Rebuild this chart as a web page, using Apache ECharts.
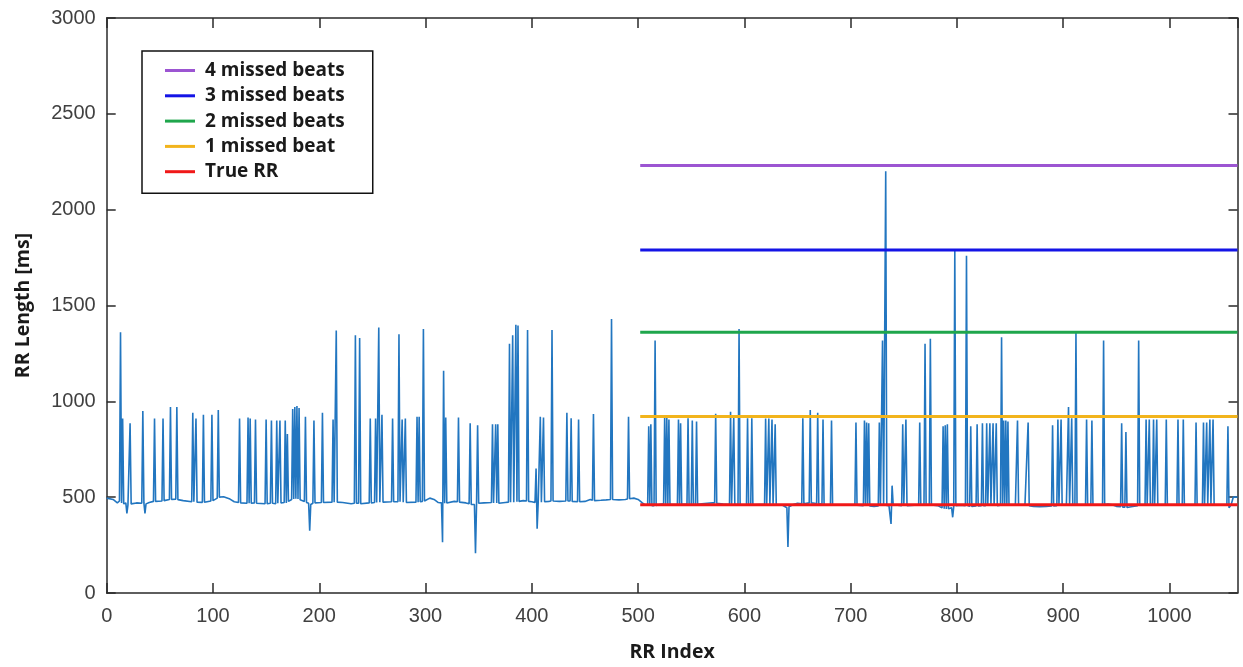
<!DOCTYPE html>
<html>
<head>
<meta charset="utf-8">
<script src="https://cdn.jsdelivr.net/npm/echarts@6/dist/echarts.min.js"></script>
<style>
html,body{margin:0;padding:0;background:#fff;}
#chart{width:1243px;height:667px;}
</style>
</head>
<body>
<div id="chart"></div>
<script>
// ---- data ----
const xTicks = [0,100,200,300,400,500,600,700,800,900,1000];
const yTicks = [0,500,1000,1500,2000,2500,3000];
const xMax = 1064;

// RR series: [RR index, RR length in ms]
const rrPoints = [
[0,495],[6,488],[10,470],[12,480],[13,1360],[14,470],[15,910],[16,465],[18,470],[19,415],[20,460],[21,470],[22,885],[23,465],[28,470],[33,468],[34,950],[35,470],[36,415],[37,465],[40,472],[44,478],[45,910],[46,478],[52,480],[53,910],[54,482],[59,488],[60,970],[61,488],[65,490],[66,970],[67,487],[72,482],[80,476],[81,940],[82,476],[83,475],[84,910],[85,474],[90,473],[91,930],[92,473],[98,480],[99,930],[100,482],[104,495],[105,955],[106,500],[110,502],[116,490],[120,476],[124,472],[125,910],[126,470],[132,468],[133,915],[134,468],[135,910],[136,468],[139,470],[140,905],[141,468],[149,466],[150,905],[151,466],[154,468],[155,900],[156,468],[159,466],[160,900],[161,468],[162,470],[163,900],[164,470],[167,472],[168,900],[169,470],[170,830],[171,478],[174,488],[175,960],[176,490],[177,970],[178,492],[179,975],[180,490],[181,965],[182,486],[186,478],[187,920],[188,472],[190,468],[191,325],[192,462],[194,468],[195,900],[196,470],[202,472],[203,940],[204,472],[212,474],[213,905],[214,474],[215,476],[216,1370],[217,474],[222,472],[230,466],[233,468],[234,1345],[235,468],[237,468],[238,1330],[239,466],[247,470],[248,910],[249,470],[252,472],[253,910],[254,472],[255,472],[256,1385],[257,474],[258,474],[259,930],[260,474],[268,476],[269,910],[270,476],[274,476],[275,1350],[276,476],[277,476],[278,905],[279,474],[280,474],[281,910],[282,472],[291,474],[292,920],[293,474],[294,920],[295,476],[297,478],[298,1378],[299,480],[304,495],[308,488],[312,472],[315,470],[316,265],[317,1160],[318,468],[319,915],[320,470],[327,478],[330,476],[331,915],[332,474],[338,470],[341,466],[342,885],[343,462],[346,462],[347,207],[348,465],[349,875],[350,468],[355,470],[362,472],[363,880],[364,470],[365,470],[366,880],[367,470],[368,880],[369,468],[375,472],[378,474],[379,1300],[380,474],[381,474],[382,1345],[383,474],[384,476],[385,1400],[386,476],[387,1395],[388,478],[392,482],[395,480],[396,1372],[397,478],[400,476],[403,472],[404,650],[405,335],[406,470],[407,472],[408,920],[409,474],[410,474],[411,915],[412,476],[416,478],[418,480],[419,1372],[420,480],[426,478],[432,480],[433,940],[434,480],[436,480],[437,912],[438,478],[443,476],[444,905],[445,476],[450,478],[455,488],[457,484],[458,934],[459,482],[465,484],[470,486],[474,488],[475,1430],[476,488],[482,486],[488,488],[490,490],[491,920],[492,492],[496,495],[500,488],[504,470],[506,462],[509,458],[510,870],[511,456],[512,880],[513,455],[515,456],[516,1317],[517,456],[520,462],[524,466],[525,915],[526,462],[527,920],[528,462],[529,905],[530,462],[534,462],[537,462],[538,905],[539,462],[540,885],[541,462],[546,464],[547,912],[548,462],[550,460],[551,900],[552,460],[554,460],[555,895],[556,462],[560,466],[565,468],[570,470],[572,470],[573,935],[574,468],[580,464],[586,462],[587,945],[588,462],[589,462],[590,915],[591,462],[594,462],[595,1378],[596,462],[602,460],[603,912],[604,460],[606,460],[607,912],[608,460],[614,462],[619,462],[620,910],[621,462],[622,462],[623,910],[624,462],[625,462],[626,905],[627,460],[628,460],[629,880],[630,460],[636,458],[640,445],[641,240],[642,450],[646,462],[650,468],[654,466],[655,912],[656,466],[661,470],[662,955],[663,470],[666,468],[668,466],[669,940],[670,466],[673,464],[674,905],[675,462],[681,460],[682,900],[683,460],[690,458],[698,460],[704,458],[705,890],[706,458],[712,456],[713,900],[714,456],[715,890],[716,456],[717,885],[718,454],[722,452],[726,454],[727,890],[728,454],[729,456],[730,1317],[731,456],[732,456],[733,2200],[734,456],[736,458],[737,448],[738,360],[739,560],[740,462],[744,458],[748,456],[749,880],[750,456],[751,456],[752,905],[753,456],[760,458],[764,458],[765,890],[766,458],[769,460],[770,1300],[771,460],[774,460],[775,1326],[776,460],[782,456],[786,444],[787,870],[788,440],[789,875],[790,438],[791,880],[792,440],[795,445],[796,395],[797,450],[798,1790],[799,456],[803,458],[808,456],[809,1760],[810,456],[812,452],[813,870],[814,452],[818,454],[819,880],[820,454],[823,456],[824,885],[825,456],[827,456],[828,885],[829,456],[830,456],[831,885],[832,456],[833,456],[834,885],[835,456],[836,456],[837,885],[838,456],[841,458],[842,1334],[843,458],[844,900],[845,458],[846,900],[847,458],[848,895],[849,458],[855,460],[857,900],[858,458],[864,458],[867,890],[868,456],[872,452],[878,450],[884,452],[889,454],[890,875],[891,454],[894,456],[895,905],[896,456],[897,456],[898,905],[899,458],[903,460],[904,460],[905,970],[906,460],[907,460],[908,912],[909,460],[911,460],[912,1360],[913,460],[918,460],[921,460],[922,905],[923,460],[926,460],[927,900],[928,458],[932,458],[937,458],[938,1317],[939,460],[942,464],[946,460],[950,452],[954,450],[955,885],[956,448],[958,448],[959,840],[960,446],[964,450],[970,456],[971,1317],[972,458],[977,458],[978,905],[979,458],[980,458],[981,905],[982,458],[984,458],[985,905],[986,458],[987,458],[988,905],[989,458],[994,458],[996,458],[997,905],[998,458],[1002,460],[1007,460],[1008,905],[1009,460],[1012,460],[1013,905],[1014,460],[1020,460],[1024,460],[1025,890],[1026,460],[1031,460],[1032,890],[1033,460],[1034,460],[1035,890],[1036,460],[1037,460],[1038,905],[1039,460],[1040,460],[1041,905],[1042,460],[1050,460],[1054,458],[1055,870],[1056,445],[1058,460],[1060,500],[1064,500]
];

// Reference levels (ms) drawn from RR index refStart to refEnd
const refStart = 502;
const refEnd = 1064;
const refNames  = ['4 missed beats','3 missed beats','2 missed beats','1 missed beat','True RR'];
const refLevels = [2230, 1790, 1360, 921, 460];
const refColors = ['#9c55d2','#1414e6','#1fa64c','#f2b41c','#f01818'];

// ---- chart ----
const chart = echarts.init(document.getElementById('chart'), null, {renderer:'canvas'});
const axisColor = '#2a2a2a';
const tickFont = {color:'#404040', fontSize:20, fontFamily:'Liberation Sans, Arial, sans-serif'};
const nameFont = {color:'#1a1a1a', fontSize:19.5, fontWeight:'bold', fontFamily:'Open Sans, sans-serif'};

const refSeries = refNames.map((n,i)=>({
  name:n, type:'line', xAxisIndex:0, yAxisIndex:0,
  data:[[refStart, refLevels[i]],[refEnd, refLevels[i]]],
  showSymbol:false, symbol:'none', color:refColors[i],
  lineStyle:{color:refColors[i], width:3}, z:3, silent:true
}));

chart.setOption({
  animation:false,
  backgroundColor:'#fff',
  grid:{left:106.7, right:5.5, top:18, bottom:69, containLabel:false},
  legend:{
    data:refNames, orient:'vertical', left:142, top:51,
    backgroundColor:'#fff', borderColor:'#111', borderWidth:1.5,
    padding:[10,28,12,23], itemWidth:30, itemHeight:3, itemGap:6.3, icon:'rect',
    textStyle:{color:'#1a1a1a', fontSize:19, fontWeight:'bold', fontFamily:'Open Sans, sans-serif', lineHeight:18, padding:[0,0,0,5]},
    selectedMode:false, z:10
  },
  xAxis:[
    {type:'value', position:'bottom', min:0, max:xMax, interval:100,
     name:'RR Index', nameLocation:'middle', nameGap:49, nameTextStyle:nameFont,
     axisLine:{show:true, onZero:false, lineStyle:{color:axisColor, width:1.5}},
     axisTick:{show:true, inside:true, length:10, lineStyle:{color:axisColor, width:1.5}},
     axisLabel:{...tickFont, margin:13, showMaxLabel:false,
       formatter:v=> xTicks.includes(v) ? String(v) : ''},
     splitLine:{show:false}},
    {type:'value', position:'top', min:0, max:xMax, interval:100,
     axisLine:{show:true, onZero:false, lineStyle:{color:axisColor, width:1.5}},
     axisTick:{show:true, inside:true, length:10, lineStyle:{color:axisColor, width:1.5}},
     axisLabel:{show:false}, splitLine:{show:false}}
  ],
  yAxis:[
    {type:'value', position:'left', min:0, max:3000, interval:500,
     name:'RR Length [ms]', nameLocation:'middle', nameGap:73, nameTextStyle:nameFont,
     axisLine:{show:true, onZero:false, lineStyle:{color:axisColor, width:1.5}},
     axisTick:{show:true, inside:true, length:9, lineStyle:{color:axisColor, width:1.5}},
     axisLabel:{...tickFont, margin:11, formatter:v=> yTicks.includes(v) ? String(v) : ''},
     splitLine:{show:false}},
    {type:'value', position:'right', min:0, max:3000, interval:500,
     axisLine:{show:true, onZero:false, lineStyle:{color:axisColor, width:1.5}},
     axisTick:{show:true, inside:true, length:9, lineStyle:{color:axisColor, width:1.5}},
     axisLabel:{show:false}, splitLine:{show:false}}
  ],
  series:[
    {name:'RR', type:'line', xAxisIndex:0, yAxisIndex:0, data:rrPoints,
     showSymbol:false, symbol:'none', color:'#2276c0',
     lineStyle:{color:'#2276c0', width:1.6}, z:2, silent:true}
  ].concat(refSeries)
});
</script>
</body>
</html>
